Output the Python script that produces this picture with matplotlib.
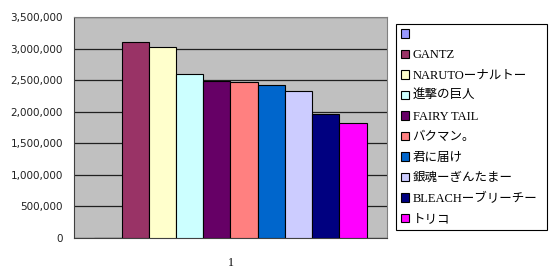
import numpy as np
import matplotlib
matplotlib.use("Agg")
import matplotlib.pyplot as plt
from matplotlib.patches import Patch
from matplotlib.ticker import FuncFormatter

# data
series = ["", "GANTZ", "NARUTOーナルトー", "進撃の巨人", "FAIRY TAIL", "バクマン。",
          "君に届け", "銀魂ーぎんたまー", "BLEACHーブリーチー", "トリコ"]
values = [0, 3100000, 3030000, 2600000, 2490000, 2465000,
          2420000, 2330000, 1965000, 1825000]
colors = ["#9999FF", "#993366", "#FFFFCC", "#CCFFFF", "#660066", "#FF8080",
          "#0066CC", "#CCCCFF", "#000080", "#FF00FF"]
category = ["1"]

fig = plt.figure(figsize=(5.5, 2.78), dpi=100)
ax = fig.add_axes([0.1345, 0.1439, 0.569, 0.795])
ax.set_facecolor("#C0C0C0")

n = len(series)
w = 1 / (n + 1.5)
for i, (name, v, c) in enumerate(zip(series, values, colors)):
    x = (i - (n - 1) / 2) * w
    ax.bar(x, v, width=w, color=c, edgecolor="black", linewidth=0.8, zorder=3)

ax.set_xlim(-0.5, 0.5)
ax.set_ylim(0, 3500000)
ax.set_yticks(np.arange(0, 3500001, 500000))
ax.yaxis.set_major_formatter(FuncFormatter(lambda v, p: f"{int(v):,}"))
ax.grid(axis="y", color="#202020", linewidth=0.9, zorder=1)
ax.set_xticks([0])
ax.set_xticklabels(category, family="Liberation Serif", fontsize=8.5)
ax.tick_params(axis="x", length=0, pad=14)
ax.tick_params(axis="y", length=0, pad=8, labelsize=7.5, colors="#202020")

for s in ["top", "right"]:
    ax.spines[s].set_color("#808080")
for s in ["left", "bottom"]:
    ax.spines[s].set_color("#404040")

# legend (first entry has no name)
handles = [Patch(facecolor=c, edgecolor="black", linewidth=0.8) for c in colors]
leg = fig.legend(handles, series, loc="upper left",
                 bbox_to_anchor=(0.72, 0.9137, 0.275, 0.0), mode="expand",
                 prop={"family": ["Liberation Serif", "Noto Sans CJK JP"], "size": 9},
                 handlelength=0.65, handleheight=0.65, handletextpad=0.3,
                 labelspacing=0.68, borderpad=0.38, borderaxespad=0,
                 fancybox=False, edgecolor="black", framealpha=1)
leg.get_frame().set_linewidth(0.8)

fig.savefig("out.png", dpi=100)
